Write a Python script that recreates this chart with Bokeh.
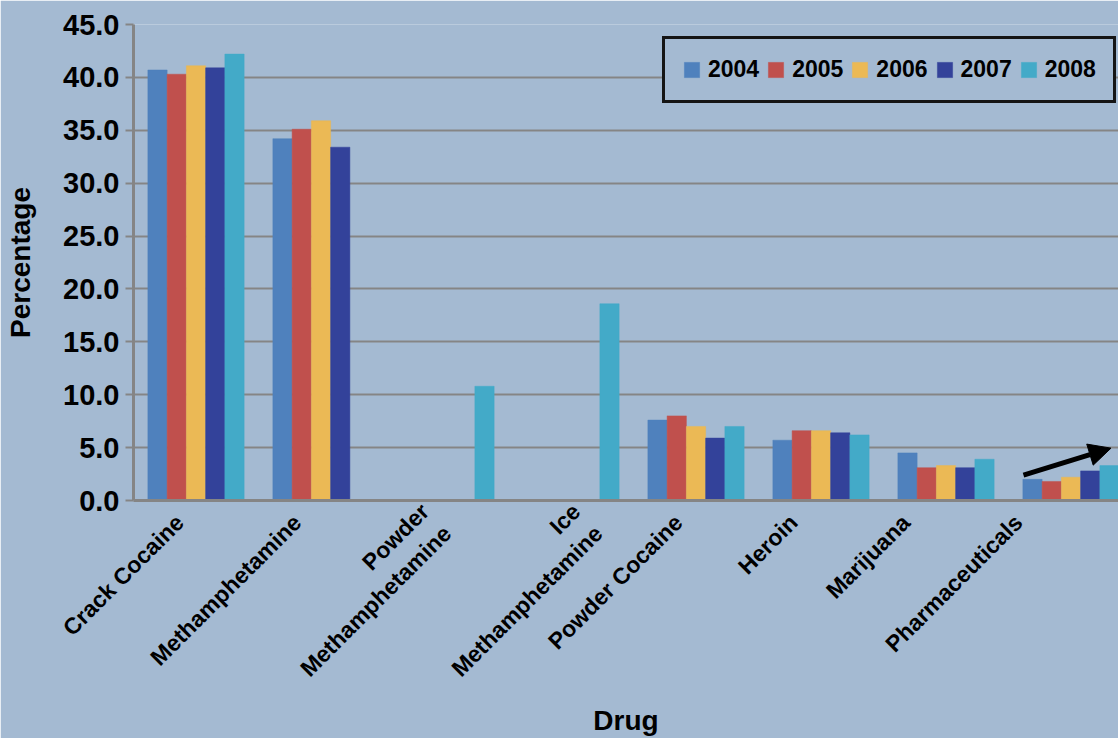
import math
from bokeh.plotting import figure
from bokeh.models import (ColumnDataSource, FixedTicker, Legend, LegendItem, Arrow,
                          NormalHead, Range1d, PrintfTickFormatter)
from bokeh.embed import file_html
from bokeh.resources import INLINE

# ---------------- data ----------------
drugs = ["Crack Cocaine", "Methamphetamine", "Powder\nMethamphetamine", "Ice\nMethamphetamine",
         "Powder Cocaine", "Heroin", "Marijuana", "Pharmaceuticals"]
years = ["2004", "2005", "2006", "2007", "2008"]
nan = float("nan")
v2004 = [40.7, 34.2, nan, nan, 7.6, 5.7, 4.5, 2.0]
v2005 = [40.3, 35.1, nan, nan, 8.0, 6.6, 3.1, 1.8]
v2006 = [41.1, 35.9, nan, nan, 7.0, 6.6, 3.3, 2.2]
v2007 = [40.9, 33.4, nan, nan, 5.9, 6.4, 3.1, 2.8]
v2008 = [42.2, nan, 10.8, 18.6, 7.0, 6.2, 3.9, 3.3]
series = [v2004, v2005, v2006, v2007, v2008]
y_ticks = [0, 5, 10, 15, 20, 25, 30, 35, 40, 45]
x_title = "Drug"
y_title = "Percentage"
# trend arrow on Pharmaceuticals (data coordinates)
arrow_start = (7.12, 2.4)
arrow_end = (7.82, 4.95)

# ---------------- style ----------------
colors = ["#4F81BD", "#C0504D", "#EBB955", "#33429A", "#43AAC8"]
bg = "#A4BAD2"
grid_gray = "#858585"
FONT = "Liberation Sans"
# horizontal nudge of each rotated category label (in category widths)
label_dx = [-0.13, -0.19, -0.08, 0.13, -0.14, -0.22, -0.32, -0.42]

p = figure(width=1118, height=738, output_backend="svg", toolbar_location=None,
           x_range=Range1d(0, 7.88), y_range=Range1d(0, 45),
           background_fill_color=bg, border_fill_color=bg, outline_line_color=None,
           min_border_left=133, min_border_right=0, min_border_top=24, min_border_bottom=238)

bar_w = 0.154
items = []
for k, (yr, vals, col) in enumerate(zip(years, series, colors)):
    xs = [i + 0.5 + (k - 2) * bar_w for i in range(len(drugs))]
    src = ColumnDataSource(dict(x=xs, top=vals))
    r = p.vbar(x="x", top="top", width=bar_w, bottom=0, source=src,
               fill_color=col, line_color=col, line_width=0.5)
    items.append(LegendItem(label=yr, renderers=[r]))

p.add_layout(Arrow(end=NormalHead(size=22, fill_color="black", line_color="black", line_width=1),
                   x_start=arrow_start[0], y_start=arrow_start[1],
                   x_end=arrow_end[0], y_end=arrow_end[1],
                   line_width=5, line_color="black"))

legend = Legend(items=items, orientation="horizontal", location=(529, 397),
                border_line_color="#151515", border_line_width=3, border_line_alpha=1.0,
                background_fill_color=bg, background_fill_alpha=1.0,
                padding=17, spacing=7, label_standoff=7, margin=0,
                glyph_width=19, glyph_height=19,
                label_text_font=FONT, label_text_font_style="bold",
                label_text_font_size="23px", label_text_color="black")
p.add_layout(legend)

# grid
p.xgrid.grid_line_color = None
p.ygrid.grid_line_color = grid_gray
p.ygrid.grid_line_width = 2
p.ygrid.ticker = FixedTicker(ticks=y_ticks)

# y axis
ya = p.yaxis[0]
ya.ticker = FixedTicker(ticks=y_ticks)
ya.formatter = PrintfTickFormatter(format="%.1f")
ya.major_label_text_font = FONT
ya.major_label_text_font_style = "bold"
ya.major_label_text_font_size = "29px"
ya.major_label_text_color = "black"
ya.major_tick_out = 8
ya.major_tick_in = 0
ya.major_tick_line_color = grid_gray
ya.major_tick_line_width = 2
ya.minor_tick_line_color = None
ya.axis_line_color = grid_gray
ya.axis_line_width = 3
ya.major_label_standoff = 6
ya.axis_label = y_title
ya.axis_label_text_font = FONT
ya.axis_label_text_font_style = "bold"
ya.axis_label_text_font_size = "28px"
ya.axis_label_text_color = "black"
ya.axis_label_standoff = 24

# x axis
xa = p.xaxis[0]
xticks = [i + 0.5 + d for i, d in enumerate(label_dx)]
xa.ticker = FixedTicker(ticks=xticks)
xa.major_label_overrides = {t: d for t, d in zip(xticks, drugs)}
xa.major_label_orientation = math.pi / 4
xa.major_label_text_font = FONT
xa.major_label_text_font_style = "bold"
xa.major_label_text_font_size = "23px"
xa.major_label_text_color = "black"
xa.major_label_standoff = 12
xa.major_tick_line_color = None
xa.minor_tick_line_color = None
xa.axis_line_color = grid_gray
xa.axis_line_width = 3
xa.axis_label = x_title
xa.axis_label_text_font = FONT
xa.axis_label_text_font_style = "bold"
xa.axis_label_text_font_size = "28px"
xa.axis_label_text_color = "black"
xa.axis_label_standoff = 0

open("out.html", "w").write(file_html(p, INLINE))
